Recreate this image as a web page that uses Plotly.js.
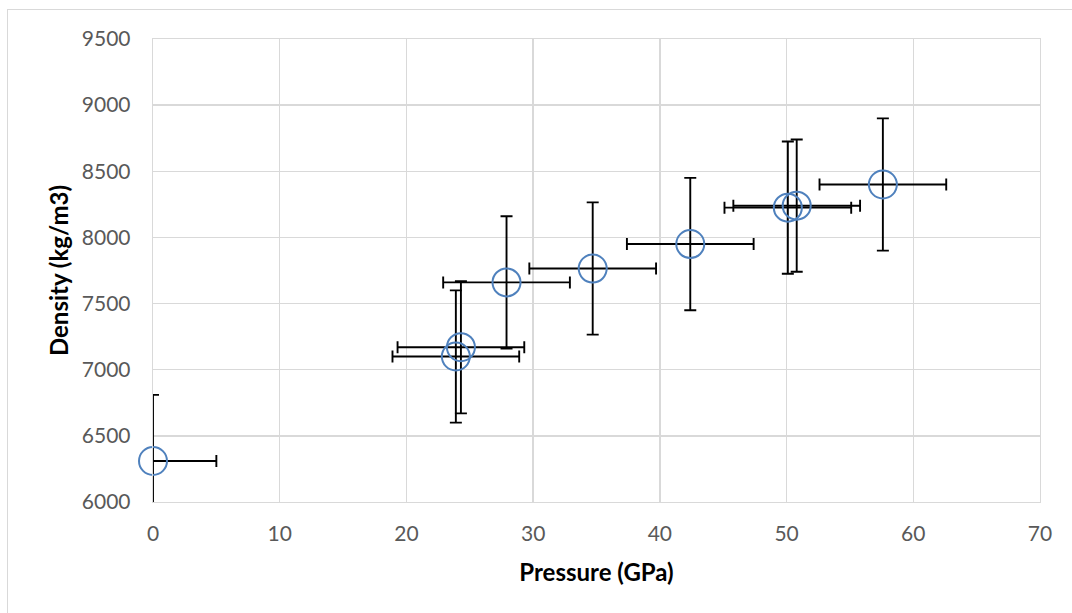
<!DOCTYPE html>
<html>
<head>
<meta charset="utf-8">
<script src="https://cdn.plot.ly/plotly-3.0.1.min.js"></script>
<style>
  html, body { margin: 0; padding: 0; background: #ffffff; }
  #frame { position: absolute; left: 7px; top: 9px; width: 1070px; height: 610px;
           border-left: 1px solid #d9d9d9; border-top: 1px solid #d9d9d9; pointer-events: none; }
  #chart { width: 1072px; height: 613px; }
</style>
</head>
<body>
<div id="chart"></div>
<div id="frame"></div>
<script>
// Data
const pressure = [0, 24.3, 23.9, 27.9, 34.7, 42.4, 50.1, 50.8, 57.6];       // GPa
const density  = [6310, 7170, 7100, 7660, 7765, 7950, 8225, 8240, 8400];   // kg/m3
const pressureErr = [5, 5, 5, 5, 5, 5, 5, 5, 5];                           // GPa
const densityErr  = [500, 500, 500, 500, 500, 500, 500, 500, 500];        // kg/m3

const xTitle = 'Pressure (GPa)';
const yTitle = 'Density (kg/m3)';

const FONT = 'Lato, "Open Sans", "DejaVu Sans", sans-serif';

const errTrace = {
  type: 'scatter', mode: 'markers',
  x: pressure, y: density,
  marker: { size: 1, opacity: 0 },
  error_x: { type: 'data', array: pressureErr, visible: true, color: '#000000', thickness: 1.9, width: 6 },
  error_y: { type: 'data', array: densityErr, visible: true, color: '#000000', thickness: 1.9, width: 6 },
  cliponaxis: true,
  hoverinfo: 'skip', showlegend: false
};

const markerTrace = {
  type: 'scatter', mode: 'markers',
  x: pressure, y: density,
  marker: { symbol: 'circle-open', size: 28, color: '#4f81bd', line: { width: 2, color: '#4f81bd' } },
  cliponaxis: false,
  showlegend: false
};

const layout = {
  width: 1072, height: 613,
  margin: { l: 153, r: 32, t: 39, b: 111 },
  paper_bgcolor: '#ffffff', plot_bgcolor: '#ffffff',
  font: { family: FONT, color: '#595959', size: 21 },
  showlegend: false,
  hovermode: false,
  xaxis: {
    range: [0, 70], dtick: 10, tick0: 0,
    showgrid: true, gridcolor: '#d9d9d9', gridwidth: 1.3,
    zeroline: false, showline: true, linecolor: '#d9d9d9', linewidth: 1.3, mirror: true,
    ticks: 'outside', ticklen: 12, tickcolor: 'rgba(0,0,0,0)',
    tickfont: { family: FONT, size: 21, color: '#595959' },
    title: { text: '<b>' + xTitle + '</b>', font: { family: FONT, size: 24, color: '#000000' }, standoff: 20 },
    automargin: false
  },
  yaxis: {
    range: [6000, 9500], dtick: 500, tick0: 6000,
    showgrid: true, gridcolor: '#d9d9d9', gridwidth: 1.3,
    zeroline: false, showline: true, linecolor: '#d9d9d9', linewidth: 1.3, mirror: true,
    ticks: 'outside', ticklen: 17, tickcolor: 'rgba(0,0,0,0)',
    tickfont: { family: FONT, size: 21, color: '#595959' },
    title: { text: '<b>' + yTitle + '</b>', font: { family: FONT, size: 24, color: '#000000' }, standoff: 6 },
    automargin: false
  }
};

Plotly.newPlot('chart', [errTrace, markerTrace], layout, { displayModeBar: false, staticPlot: true });
</script>
</body>
</html>
